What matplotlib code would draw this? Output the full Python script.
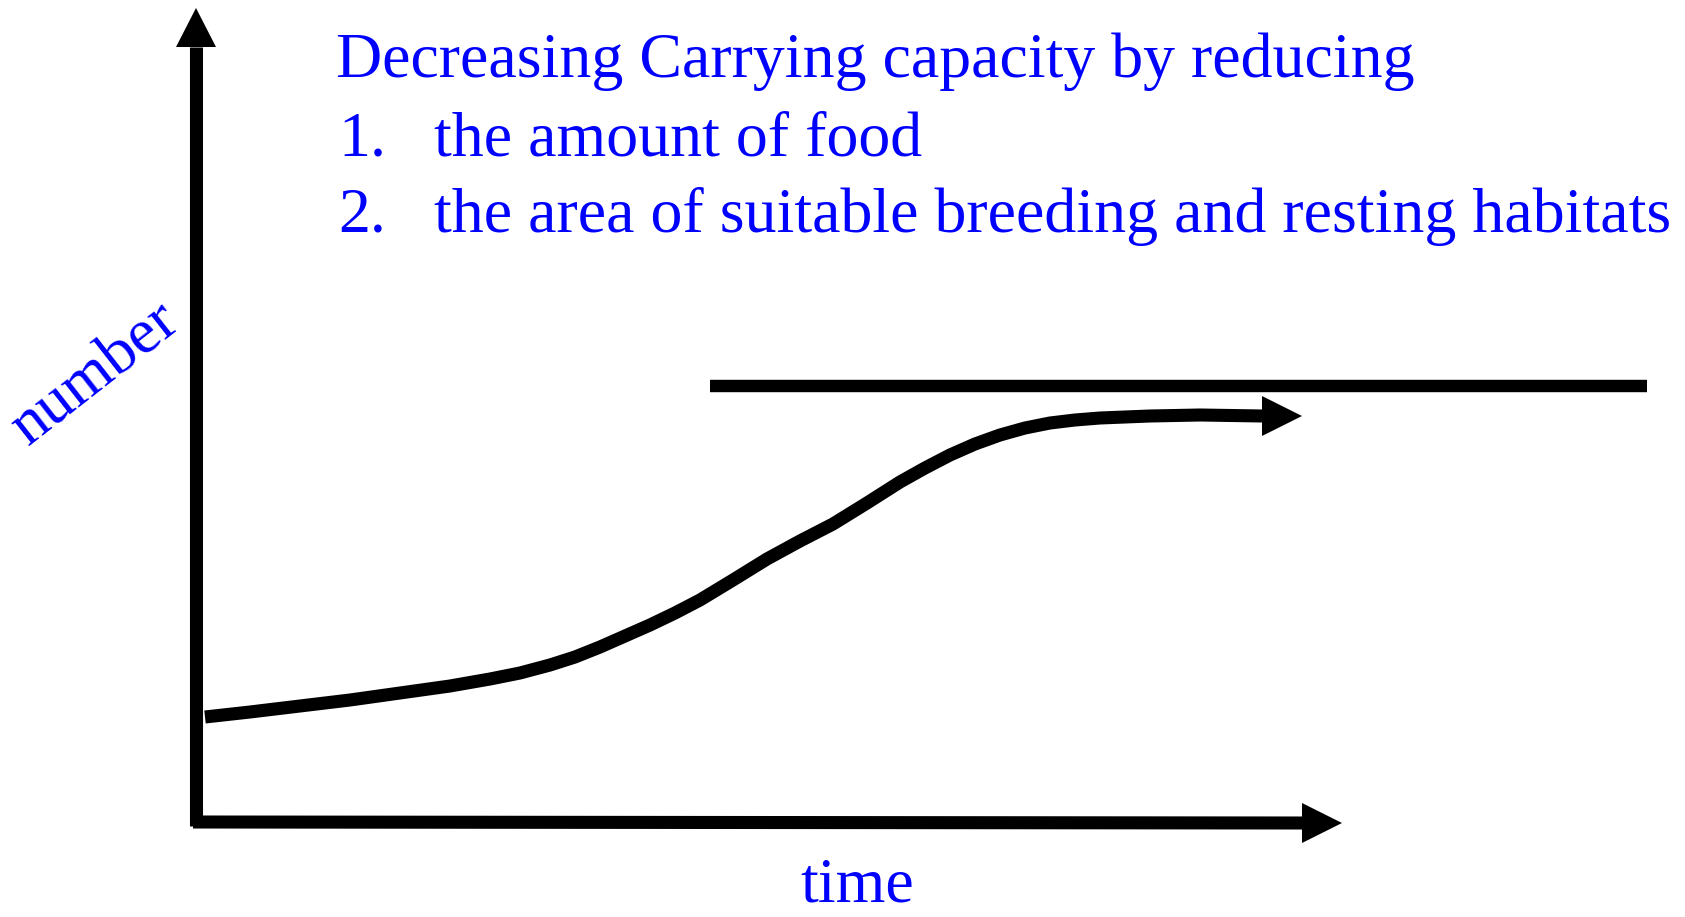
import matplotlib
matplotlib.use("Agg")
import matplotlib.pyplot as plt

# ---- data (schematic units: time along x, number along y) ----
curve_time = [9, 54, 104, 154, 204, 254, 294, 324, 354, 379, 404, 429, 454, 479, 504,
              537, 571, 604, 637, 671, 704, 729, 754, 779, 804, 829, 854, 879, 904,
              954, 1004, 1066]
curve_number = [105, 110, 116, 122, 129, 136, 143, 149, 157, 165, 175, 186, 197, 209, 222,
                242, 263, 281, 298, 319, 340, 354, 367, 378, 387, 394, 399, 402, 404,
                406, 407, 406]
capacity_time = [514, 1451]
capacity_level = 436
axis_time_max = 1106
axis_number_max = 775

title_lines = ["Decreasing Carrying capacity by reducing"]
list_numbers = ["1.", "2."]
list_items = ["the amount of food", "the area of suitable breeding and resting habitats"]
x_label = "time"
y_label = "number"

# ---- figure ----
W, H = 1685, 917
fig = plt.figure(figsize=(W / 100, H / 100), dpi=100)
ax = fig.add_axes([0, 0, 1, 1])
ax.set_xlim(-196, W - 196)
ax.set_ylim(822 - H, 822)
ax.axis("off")

lw = 9.4
blk = "black"
blue = "#0000FF"
font = "Liberation Serif"
fs = 46

# arrowhead sizes (data units == pixels here)
hl, hw = 40, 20

# y axis
ax.plot([0, 0], [-4, axis_number_max], color=blk, lw=lw, solid_capstyle="butt")
ax.fill([0 - hw, 0 + hw, 0], [axis_number_max, axis_number_max, axis_number_max + hl - 1],
        color=blk, lw=0)
# x axis
ax.plot([-3, axis_time_max], [0, -1], color=blk, lw=lw, solid_capstyle="butt")
ax.fill([axis_time_max, axis_time_max, axis_time_max + hl], [-1 + hw, -1 - hw, -1],
        color=blk, lw=0)

# carrying capacity line
ax.plot(capacity_time, [capacity_level, capacity_level], color=blk, lw=lw * 0.95,
        solid_capstyle="butt")

# population curve with arrow
ax.plot(curve_time, curve_number, color=blk, lw=lw, solid_joinstyle="round",
        solid_capstyle="butt")
ex, ey = curve_time[-1], curve_number[-1]
ax.fill([ex, ex, ex + hl], [ey + hw, ey - hw, ey], color=blk, lw=0)

# texts
ax.text(140, 822 - 77, title_lines[0], color=blue, fontsize=fs, family=font,
        ha="left", va="baseline")
for i, (n, item) in enumerate(zip(list_numbers, list_items)):
    yb = 822 - (155 + 77 * i)
    ax.text(142, yb, n, color=blue, fontsize=fs, family=font, ha="left", va="baseline")
    ax.text(238, yb, item, color=blue, fontsize=fs, family=font, ha="left", va="baseline")

ax.text(661, 822 - 902, x_label, color=blue, fontsize=fs, family=font,
        ha="center", va="baseline")
ax.text(-100, 447, y_label, color=blue, fontsize=fs, family=font,
        ha="center", va="center", rotation=38, rotation_mode="anchor")

fig.savefig("out.png", dpi=100, facecolor="white")
